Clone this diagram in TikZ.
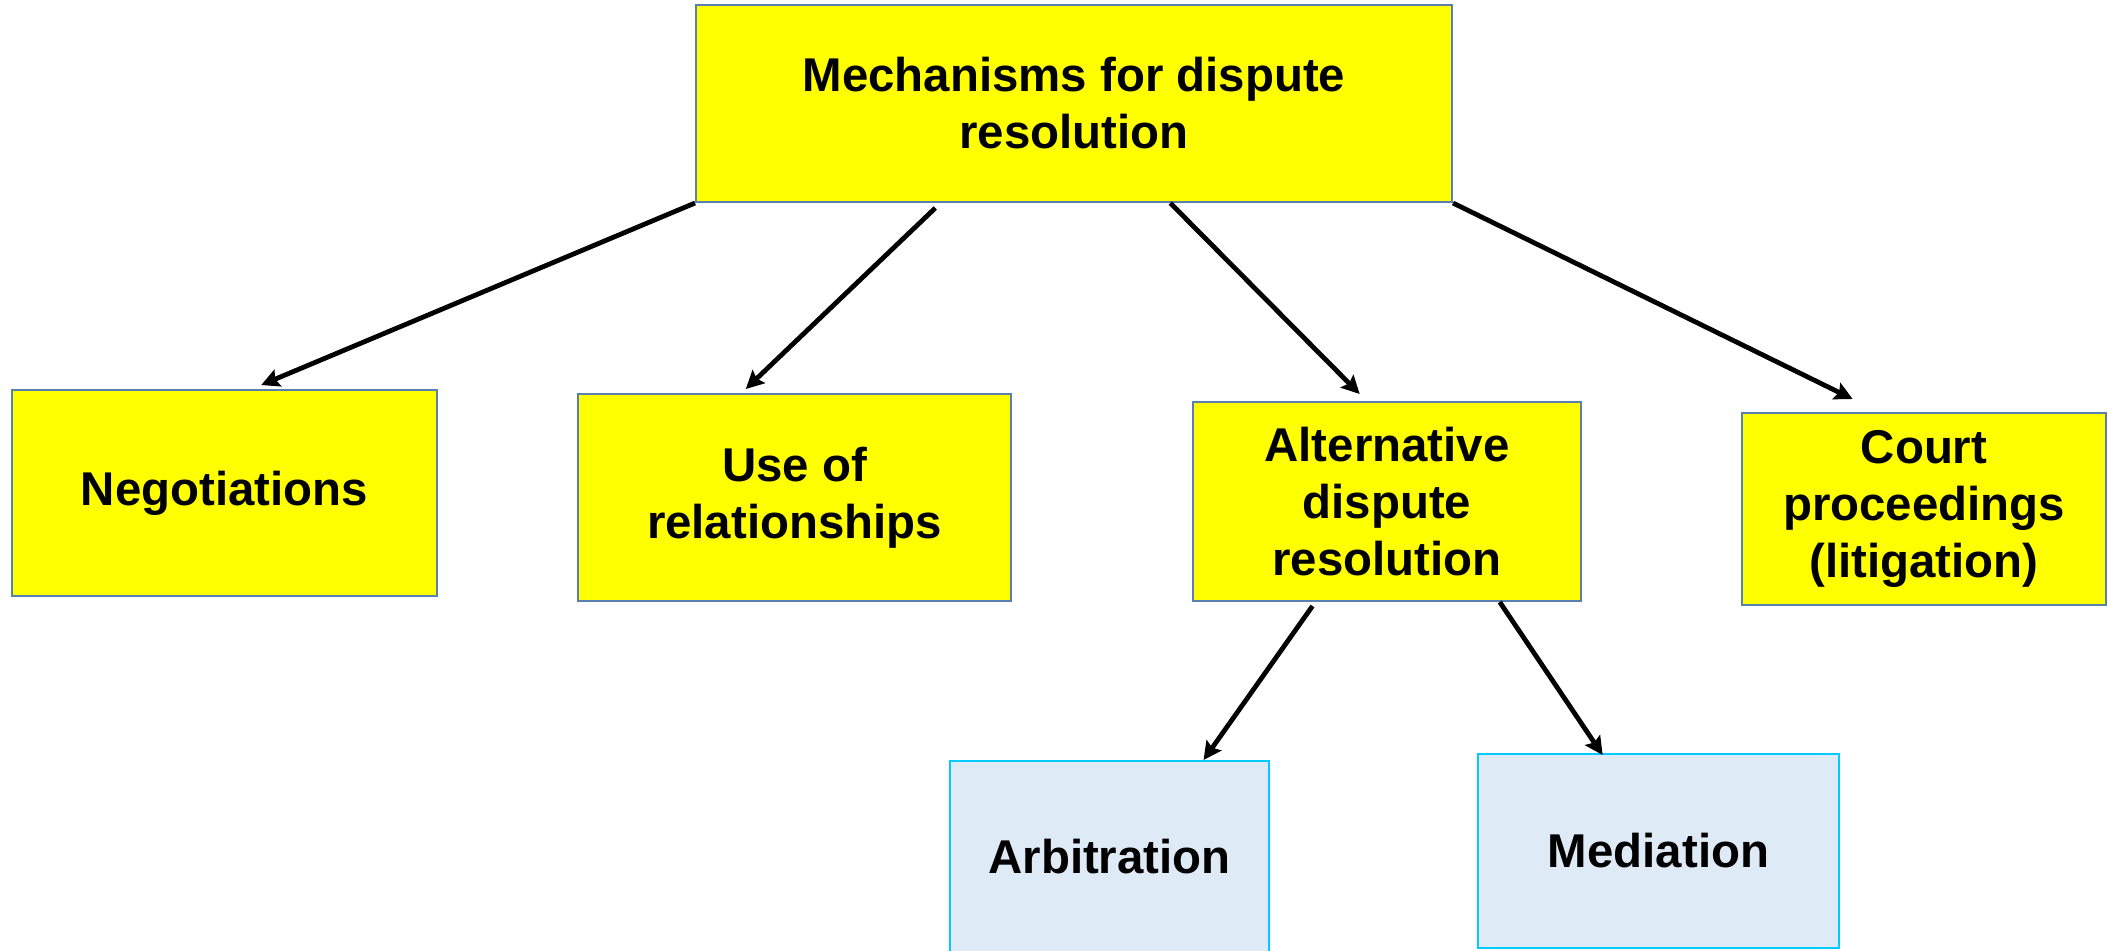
\documentclass[tikz,border=0pt]{standalone}
\usepackage{fontspec}
\setmainfont{Liberation Sans}
\usepackage{tikz}
\usetikzlibrary{calc,arrows.meta}
\definecolor{box-yellow}{HTML}{FFFF00}
\definecolor{box-line}{HTML}{5A80B0}
\definecolor{sub-fill}{HTML}{DEEAF6}
\definecolor{sub-line}{HTML}{00CCFF}

\begin{document}
\begin{tikzpicture}[x=0.5pt, y=-0.5pt, >={Stealth[length=9pt,width=9pt,inset=1.5pt]},
    mainbox/.style={draw=box-line, fill=box-yellow, line width=1pt, align=center,
        inner sep=0pt, font=\fontsize{23.7}{28.5}\selectfont\bfseries},
    subbox/.style={mainbox, draw=sub-line, fill=sub-fill},
    link/.style={->, line width=2.4pt}]
    \useasboundingbox (0,0) rectangle (2108,950);
    \node[mainbox, minimum width=378pt, minimum height=98.5pt] (root) at (1074,103.5)
        {Mechanisms for dispute\\resolution};
    \node[mainbox, minimum width=212.5pt, minimum height=103pt] (nego) at (224.5,493)
        {Negotiations};
    \node[mainbox, minimum width=216.5pt, minimum height=103.5pt] (rel) at (794.5,497.5)
        {Use of\\relationships};
    \node[mainbox, minimum width=194pt, minimum height=99.5pt] (adr) at (1387,501.5)
        {Alternative\\dispute\\resolution};
    \node[mainbox, minimum width=182pt, minimum height=96pt] (court) at (1924,509)
        {Court\\proceedings\\(litigation)};
    \node[subbox, minimum width=159.5pt, minimum height=96pt] (arb) at (1109.5,857)
        {Arbitration};
    \node[subbox, minimum width=180.5pt, minimum height=97pt] (med) at (1658.5,851)
        {Mediation};
    % links from the root
    \draw[link] (root.south west) -- ($(nego.north west)!0.586!(nego.north east)+(0,-4)$);
    \draw[link] ($(root.south west)!0.317!(root.south east)+(0,5)$)
        -- ($(rel.north west)!0.388!(rel.north east)+(0,-4)$);
    \draw[link] ($(root.south west)!0.627!(root.south east)$)
        -- ($(adr.north west)!0.43!(adr.north east)+(0,-7)$);
    \draw[link] (root.south east) -- ($(court.north west)!0.305!(court.north east)+(0,-13)$);
    % links below ADR
    \draw[link] ($(adr.south west)!0.309!(adr.south east)+(0,4)$)
        -- ($(arb.north west)!0.793!(arb.north east)$);
    \draw[link] ($(adr.south west)!0.789!(adr.south east)$)
        -- ($(med.north west)!0.346!(med.north east)+(0,2)$);
\end{tikzpicture}
\end{document}
